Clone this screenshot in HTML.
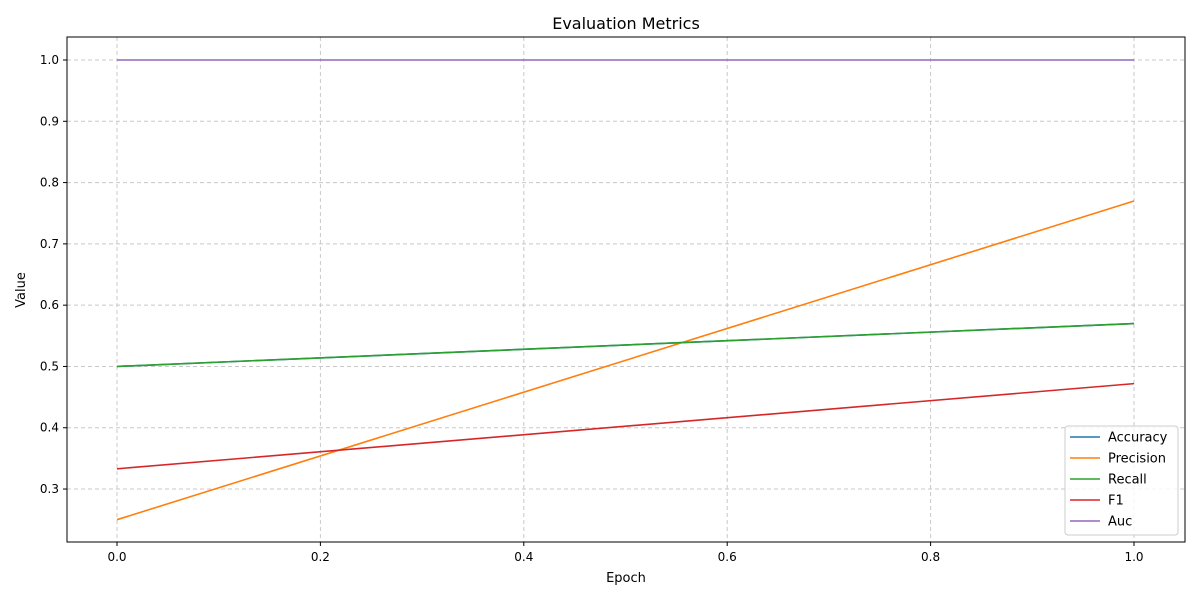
<!DOCTYPE html>
<html><head><meta charset="utf-8"><style>
body{margin:0;background:#fff;font-family:"Liberation Sans","DejaVu Sans",sans-serif;}
</style></head><body>
<svg id="chart" width="1200" height="600" font-family="DejaVu Sans, Liberation Sans, sans-serif">
<rect width="1200" height="600" fill="#fff"/>
<g id="grid"></g>
<g id="lines"></g>
<rect x="67" y="37" width="1118" height="505" fill="none" stroke="#000" stroke-width="1"/>
<g id="ticks" font-size="12" fill="#000"></g>
<text x="626" y="29" text-anchor="middle" font-size="16">Evaluation Metrics</text>
<text x="626" y="582" text-anchor="middle" font-size="13">Epoch</text>
<text transform="translate(25,290) rotate(-90)" text-anchor="middle" font-size="13">Value</text>
<g id="legend"></g>
</svg>
<script>
const epochs=[0,1];
const seriesNames=["Accuracy","Precision","Recall","F1","Auc"];
const accuracy=[0.5,0.57];
const precision=[0.25,0.77];
const recall=[0.5,0.57];
const f1=[0.333,0.472];
const auc=[1.0,1.0];
const colors=["#1f77b4","#ff7f0e","#2ca02c","#d62728","#9467bd"];
const xTicks=[0,0.2,0.4,0.6,0.8,1.0];
const yTicks=[0.3,0.4,0.5,0.6,0.7,0.8,0.9,1.0];
const NS="http://www.w3.org/2000/svg";
const xs=v=>117+v*1017;
const ys=v=>60+(1-v)*612.9;
function mk(t,a,p){const e=document.createElementNS(NS,t);for(const k in a)e.setAttribute(k,a[k]);p.appendChild(e);return e;}
const grid=document.getElementById('grid'),ticks=document.getElementById('ticks');
xTicks.forEach(v=>{const x=xs(v);
 const g=mk('line',{x1:x,x2:x,y1:37,y2:542,stroke:'#c8c8c8','stroke-dasharray':'4,3'},grid);
 
 mk('line',{x1:x,x2:x,y1:542,y2:546,stroke:'#000'},ticks);
 const t=mk('text',{x:x,y:561,'text-anchor':'middle'},ticks);t.textContent=v.toFixed(1);
 });
yTicks.forEach(v=>{const y=ys(v);
 const g=mk('line',{x1:67,x2:1185,y1:y,y2:y,stroke:'#c8c8c8','stroke-dasharray':'4,3'},grid);
 
 mk('line',{x1:63,x2:67,y1:y,y2:y,stroke:'#000'},ticks);
 const t=mk('text',{x:59,y:y+4,'text-anchor':'end'},ticks);t.textContent=v.toFixed(1);
 });
const data=[accuracy,precision,recall,f1,auc];
const lines=document.getElementById('lines');
data.forEach((s,i)=>{const pts=s.map((v,j)=>xs(epochs[j])+','+ys(v)).join(' ');
 const p=mk('polyline',{points:pts,fill:'none',stroke:colors[i],'stroke-width':1.6},lines);
 });
const lg=document.getElementById('legend');
const box=mk('rect',{x:1065,y:426,width:113,height:109,rx:3,fill:'#fff','fill-opacity':0.8,stroke:'#ccc'},lg);

seriesNames.forEach((n,i)=>{const y=437+i*21;
 const g=mk('g',{},lg);
 mk('line',{x1:1070,x2:1100,y1:y,y2:y,stroke:colors[i],'stroke-width':1.6},g);
 const t=mk('text',{x:1108,y:y+4.5,'font-size':13},g);t.textContent=n;});
</script>
</body></html>
